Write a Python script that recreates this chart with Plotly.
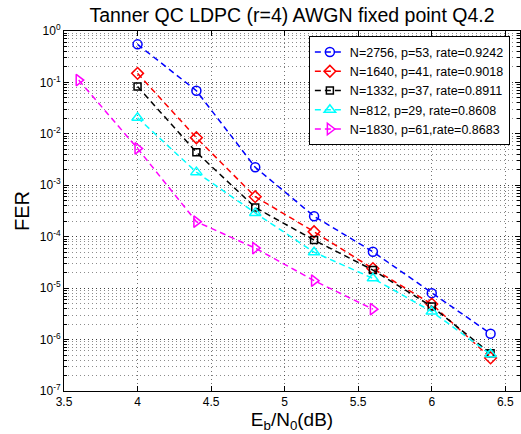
import plotly.graph_objects as go

ebn0 = [4.0, 4.4, 4.8, 5.2, 5.6, 6.0, 6.4]
ebn0_1830 = [3.6, 4.0, 4.4, 4.8, 5.2, 5.6]

fer_2756 = [0.55, 0.069, 0.00224, 2.5e-4, 5.1e-5, 8.0e-6, 1.3e-6]
fer_1640 = [0.15, 0.0084, 6.0e-4, 1.25e-4, 2.4e-5, 4.9e-6, 4.4e-7]
fer_1332 = [0.083, 0.0044, 3.7e-4, 8.6e-5, 2.25e-5, 4.4e-6, 5.4e-7]
fer_812 = [0.0206, 0.0018, 2.9e-4, 5.0e-5, 1.55e-5, 3.5e-6, 5.2e-7]
fer_1830 = [0.111, 0.0052, 1.96e-4, 6.0e-5, 1.4e-5, 3.9e-6]

names = [
    "N=2756, p=53, rate=0.9242",
    "N=1640, p=41, rate=0.9018",
    "N=1332, p=37, rate=0.8911",
    "N=812, p=29, rate=0.8608",
    "N=1830, p=61,rate=0.8683",
]
colors = ["#0000ff", "#ff0000", "#000000", "#00ffff", "#ff00ff"]
symbols = ["circle-open", "diamond-open", "square-open", "triangle-up-open", "triangle-right-open"]
sizes = [9, 9, 7, 10, 10]

x_ticks = [3.5, 4, 4.5, 5, 5.5, 6, 6.5]
y_tickvals = [1, 1e-1, 1e-2, 1e-3, 1e-4, 1e-5, 1e-6, 1e-7]
y_ticktext = ["10<sup>0</sup>", "10<sup>-1</sup>", "10<sup>-2</sup>", "10<sup>-3</sup>",
              "10<sup>-4</sup>", "10<sup>-5</sup>", "10<sup>-6</sup>", "10<sup>-7</sup>"]

series = [
    (ebn0, fer_2756),
    (ebn0, fer_1640),
    (ebn0, fer_1332),
    (ebn0, fer_812),
    (ebn0_1830, fer_1830),
]

fig = go.Figure()
for (xs, ys), name, c, s, sz in zip(series, names, colors, symbols, sizes):
    fig.add_trace(go.Scatter(
        x=xs, y=ys, name=name, mode="lines+markers",
        line=dict(color=c, width=1.5, dash="6px,4px"),
        marker=dict(symbol=s, size=sz, color=c, line=dict(color=c, width=1.5)),
    ))

font = "Liberation Sans, Arial, sans-serif"
fig.update_layout(
    width=521, height=434, autosize=False,
    margin=dict(l=64, r=1, t=31, b=43, autoexpand=False),
    paper_bgcolor="white", plot_bgcolor="white",
    font=dict(family=font, size=12, color="black"),
    title=dict(text="Tanner QC LDPC (r=4) AWGN fixed point Q4.2",
               x=(64 + 520) / 2 / 521, xanchor="center", y=1 - 15 / 434, yanchor="middle",
               font=dict(size=19.5, family=font, color="black")),
    showlegend=True,
    legend=dict(x=0.537, y=0.985, xanchor="left", yanchor="top",
                bgcolor="white", bordercolor="black", borderwidth=1,
                font=dict(size=12.5, family=font), tracegroupgap=0,
                itemwidth=30),
)
fig.update_xaxes(
    range=[3.5, 6.6], tickvals=x_ticks, ticktext=[str(v) for v in x_ticks],
    showline=True, linecolor="black", linewidth=1, mirror="ticks",
    ticks="inside", ticklen=5, tickcolor="black",
    showgrid=True, gridcolor="rgba(0,0,0,0.55)", gridwidth=1, griddash="1px,3px",
    zeroline=False, automargin=False,
    title=dict(text="E<sub>b</sub>/N<sub>0</sub>(dB)", font=dict(size=19, family=font), standoff=2),
    tickfont=dict(size=12),
)
fig.update_yaxes(
    type="log", range=[-7, 0], tickvals=y_tickvals, ticktext=y_ticktext,
    showline=True, linecolor="black", linewidth=1, mirror="ticks",
    ticks="inside", ticklen=5, tickcolor="black",
    showgrid=True, gridcolor="rgba(0,0,0,0.55)", gridwidth=1, griddash="1px,3px",
    zeroline=False, automargin=False,
    minor=dict(dtick="D1", ticks="inside", ticklen=3, tickcolor="black",
               showgrid=True, gridcolor="rgba(0,0,0,0.45)", gridwidth=1, griddash="1px,3px"),
    title=dict(text="FER", font=dict(size=20, family=font), standoff=4),
    tickfont=dict(size=12),
)

fig.write_html("out.html", config={"displayModeBar": False},
               post_script="document.body.style.margin='0px';")
